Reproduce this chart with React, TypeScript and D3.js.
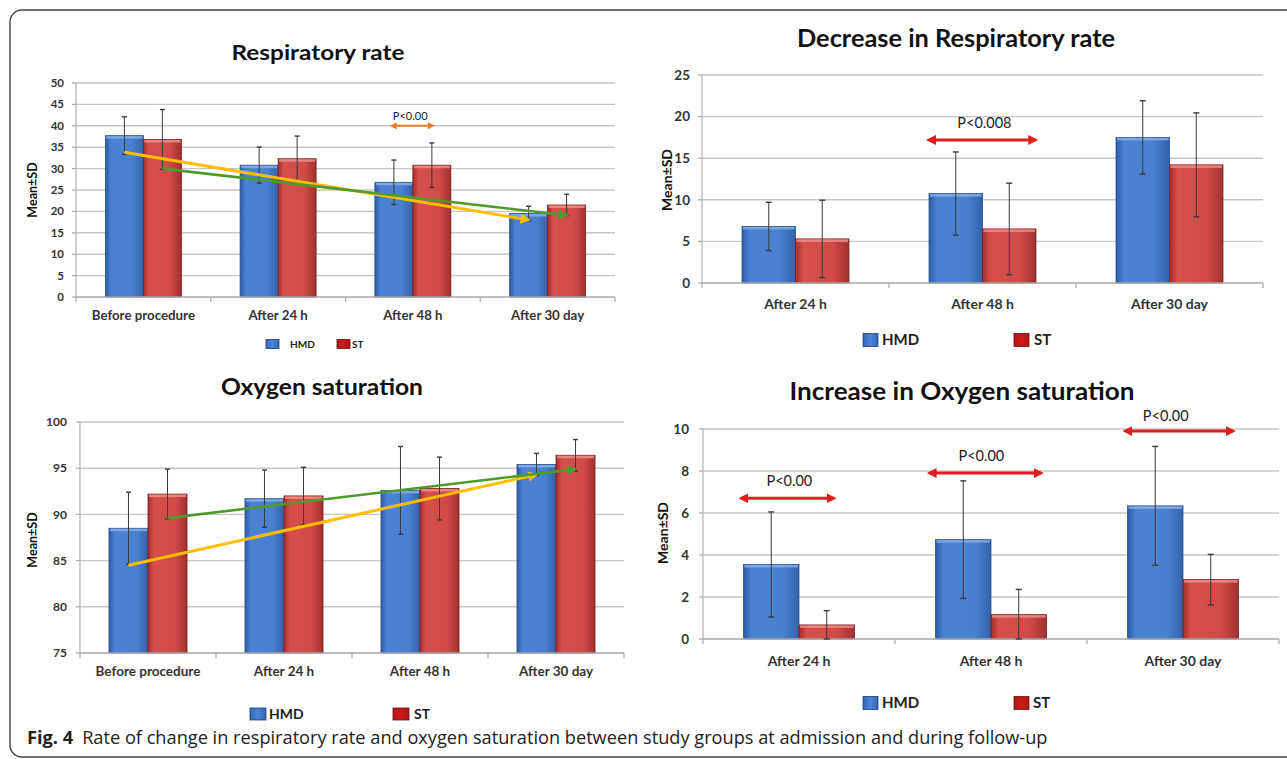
import React from "react";
import * as d3 from "d3";

// ---------- DATA ----------
const rrCategories = ["Before procedure", "After 24 h", "After 48 h", "After 30 day"];
const rrHMD = [37.7, 30.8, 26.8, 19.5];
const rrHMDsd = [4.4, 4.2, 5.2, 1.7];
const rrST = [36.8, 32.3, 30.8, 21.5];
const rrSTsd = [7.0, 5.3, 5.2, 2.5];
const rrTicks = [0, 5, 10, 15, 20, 25, 30, 35, 40, 45, 50];
const rrTrendHMD = [33.8, 18.0];
const rrTrendST = [30.0, 19.1];
const rrP = [{ category: "After 48 h", label: "P<0.00", value: 40 }];

const drCategories = ["After 24 h", "After 48 h", "After 30 day"];
const drHMD = [6.8, 10.75, 17.5];
const drHMDsd = [2.9, 5.0, 4.4];
const drST = [5.3, 6.5, 14.2];
const drSTsd = [4.65, 5.5, 6.25];
const drTicks = [0, 5, 10, 15, 20, 25];
const drP = [{ category: "After 48 h", label: "P<0.008", value: 17.2 }];

const osCategories = ["Before procedure", "After 24 h", "After 48 h", "After 30 day"];
const osHMD = [88.5, 91.7, 92.6, 95.4];
const osHMDsd = [3.9, 3.1, 4.75, 1.2];
const osST = [92.2, 92.0, 92.8, 96.4];
const osSTsd = [2.7, 3.1, 3.4, 1.7];
const osTicks = [75, 80, 85, 90, 95, 100];
const osTrendHMD = [84.5, 94.3];
const osTrendST = [89.6, 94.9];

const ioCategories = ["After 24 h", "After 48 h", "After 30 day"];
const ioHMD = [3.55, 4.73, 6.34];
const ioHMDsd = [2.5, 2.8, 2.83];
const ioST = [0.67, 1.16, 2.83];
const ioSTsd = [0.68, 1.2, 1.2];
const ioTicks = [0, 2, 4, 6, 8, 10];
const ioP = [
  { category: "After 24 h", label: "P<0.00", value: 6.7 },
  { category: "After 48 h", label: "P<0.00", value: 7.9 },
  { category: "After 30 day", label: "P<0.00", value: 9.9 },
];

const seriesNames = ["HMD", "ST"];

const FONT = "Lato, 'Open Sans', sans-serif";
const CAPFONT = "'Open Sans', 'Noto Sans', sans-serif";

// ---------- PANEL ----------
function Panel({ cfg }: { cfg: any }) {
  const x = d3
    .scaleBand<string>()
    .domain(cfg.categories)
    .range([cfg.x0, cfg.x1])
    .paddingInner(cfg.pad)
    .paddingOuter(cfg.pad / 2);
  const sub = d3.scaleBand<string>().domain(seriesNames).range([0, x.bandwidth()]);
  const y = d3.scaleLinear().domain([cfg.ticks[0], cfg.ticks[cfg.ticks.length - 1]]).range([cfg.yBottom, cfg.yTop]);
  const step = x.step();
  const bw = sub.bandwidth();
  const base = y(cfg.ticks[0]);
  const cx = (cat: string, s: string) => (x(cat) as number) + (sub(s) as number) + bw / 2;
  const series = [
    { name: "HMD", vals: cfg.hmd, sds: cfg.hmdSd, grad: "url(#gBlue)", stroke: "#27508f", hi: "#86aee6" },
    { name: "ST", vals: cfg.st, sds: cfg.stSd, grad: "url(#gRed)", stroke: "#7d1f1e", hi: "#ec8f8b" },
  ];
  const boundaries = d3.range(cfg.categories.length + 1).map((i) => cfg.x0 + i * step);
  const n = cfg.categories.length;
  return (
    <g>
      <text
        x={cfg.title.x}
        y={cfg.title.y}
        textAnchor="middle"
        fontFamily={FONT}
        fontWeight={700}
        fontSize={cfg.title.size}
        fill="#111"
        textLength={cfg.title.width}
        lengthAdjust="spacingAndGlyphs"
      >
        {cfg.title.text}
      </text>
      {/* gridlines */}
      {cfg.ticks.map((t: number) => (
        <g key={"g" + t}>
          {t !== cfg.ticks[0] && (
            <line x1={cfg.x0} x2={cfg.x1} y1={y(t)} y2={y(t)} stroke="#c6c6c6" strokeWidth={1.4} />
          )}
          <line x1={cfg.x0 - 4} x2={cfg.x0} y1={y(t)} y2={y(t)} stroke="#a8a8a8" strokeWidth={1.2} />
          <text
            x={cfg.x0 - cfg.tickOffset}
            y={y(t)}
            dy="0.35em"
            textAnchor="end"
            fontFamily={FONT}
            fontSize={cfg.tickSize}
            fontWeight={700}
            fill="#333"
          >
            {t}
          </text>
        </g>
      ))}
      <line x1={cfg.x0} x2={cfg.x0} y1={cfg.yTop} y2={cfg.yBottom} stroke="#b0b0b0" strokeWidth={1.2} />
      {/* bars */}
      {series.map((s) =>
        cfg.categories.map((c: string, i: number) => {
          const bx = (x(c) as number) + (sub(s.name) as number);
          const top = y(s.vals[i]);
          return (
            <g key={s.name + c}>
              <rect x={bx} y={top} width={bw} height={base - top} fill={s.grad} stroke={s.stroke} strokeWidth={0.8} />
              <rect x={bx + 1} y={top + 0.5} width={bw - 2} height={2.5} fill={s.hi} opacity={0.85} />
            </g>
          );
        })
      )}
      {/* x axis */}
      <line x1={cfg.x0} x2={cfg.x1} y1={base} y2={base} stroke="#a8a8a8" strokeWidth={1.3} />
      {boundaries.map((bx: number, i: number) => (
        <line key={"xt" + i} x1={bx} x2={bx} y1={base} y2={base + 5} stroke="#a8a8a8" strokeWidth={1.2} />
      ))}
      {cfg.categories.map((c: string) => (
        <text
          key={"xl" + c}
          x={(x(c) as number) + x.bandwidth() / 2}
          y={cfg.xLabelY}
          textAnchor="middle"
          fontFamily={FONT}
          fontSize={cfg.xLabelSize}
          fontWeight={700}
          fill="#333"
        >
          {c}
        </text>
      ))}
      {/* error bars */}
      {series.map((s) =>
        cfg.categories.map((c: string, i: number) => {
          const px = cx(c, s.name);
          const hi = y(s.vals[i] + s.sds[i]);
          const lo = y(Math.max(s.vals[i] - s.sds[i], cfg.ticks[0]));
          const cw = cfg.cap;
          return (
            <g key={"e" + s.name + c} stroke="#3a3a3a" strokeWidth={1}>
              <line x1={px} x2={px} y1={hi} y2={lo} />
              <line x1={px - cw / 2} x2={px + cw / 2} y1={hi} y2={hi} strokeWidth={1.4} />
              <line x1={px - cw / 2} x2={px + cw / 2} y1={lo} y2={lo} strokeWidth={1.4} />
            </g>
          );
        })
      )}
      {/* trend arrows */}
      {cfg.trendHMD && (
        <line
          x1={cx(cfg.categories[0], "HMD")}
          y1={y(cfg.trendHMD[0])}
          x2={cx(cfg.categories[n - 1], "HMD")}
          y2={y(cfg.trendHMD[1])}
          stroke="#ffbf00"
          strokeWidth={3}
          markerEnd="url(#mYellow)"
        />
      )}
      {cfg.trendST && (
        <line
          x1={cx(cfg.categories[0], "ST")}
          y1={y(cfg.trendST[0])}
          x2={cx(cfg.categories[n - 1], "ST")}
          y2={y(cfg.trendST[1])}
          stroke="#4f9a2c"
          strokeWidth={2.6}
          markerEnd="url(#mGreen)"
        />
      )}
      {/* p-value annotations */}
      {cfg.pvals.map((p: any, i: number) => {
        const lay = cfg.pLayout[i];
        const c0 = (x(p.category) as number) + x.bandwidth() / 2;
        const py = y(p.value);
        return (
          <g key={"p" + i}>
            <line
              x1={c0 + lay.from * step}
              x2={c0 + lay.to * step}
              y1={py}
              y2={py}
              stroke={cfg.pColor}
              strokeWidth={cfg.pWidth}
              markerStart={cfg.pMarker}
              markerEnd={cfg.pMarker}
            />
            <text
              x={c0 + lay.text * step}
              y={py - lay.dy}
              textAnchor="middle"
              fontFamily={FONT}
              fontSize={cfg.pSize}
              fill="#222"
            >
              {p.label}
            </text>
          </g>
        );
      })}
      {/* y label */}
      <text
        transform={`translate(${cfg.yLabel.x},${cfg.yLabel.y}) rotate(-90)`}
        textAnchor="middle"
        dy="0.35em"
        fontFamily={FONT}
        fontWeight={700}
        fontSize={cfg.yLabel.size}
        fill="#111"
      >
        Mean±SD
      </text>
      {/* legend */}
      {seriesNames.map((name, i) => {
        const L = cfg.legend;
        return (
          <g key={"lg" + name}>
            <rect
              x={L.sq[i]}
              y={L.y - L.h / 2}
              width={L.w}
              height={L.h}
              fill={i === 0 ? "url(#gBlueL)" : "url(#gRedL)"}
              stroke={i === 0 ? "#1f3f7a" : "#6d0f0f"}
              strokeWidth={0.8}
            />
            <text x={L.tx[i]} y={L.y} dy="0.36em" fontFamily={FONT} fontSize={L.size} fill="#222" fontWeight={700}>
              {name}
            </text>
          </g>
        );
      })}
    </g>
  );
}

const panels = [
  {
    categories: rrCategories, hmd: rrHMD, hmdSd: rrHMDsd, st: rrST, stSd: rrSTsd, ticks: rrTicks,
    trendHMD: rrTrendHMD, trendST: rrTrendST, pvals: rrP,
    x0: 76, x1: 615, yTop: 83, yBottom: 297, pad: 0.436,
    title: { text: "Respiratory rate", x: 318, y: 60, size: 21, width: 173 },
    yLabel: { x: 33, y: 190, size: 12.5 },
    tickSize: 11.5, tickOffset: 12, xLabelY: 320, xLabelSize: 13.3, cap: 5,
    pLayout: [{ from: -0.156, to: 0.148, text: -0.02, dy: 6 }],
    pColor: "#ec7d2f", pWidth: 2, pMarker: "url(#mOrange)", pSize: 11,
    legend: { y: 344, sq: [266, 337], tx: [290, 352], w: 13, h: 9, size: 10 },
  },
  {
    categories: drCategories, hmd: drHMD, hmdSd: drHMDsd, st: drST, stSd: drSTsd, ticks: drTicks,
    pvals: drP,
    x0: 702, x1: 1263, yTop: 75, yBottom: 283, pad: 0.428,
    title: { text: "Decrease in Respiratory rate", x: 956, y: 47, size: 25, width: 318 },
    yLabel: { x: 667, y: 180, size: 14 },
    tickSize: 13.5, tickOffset: 12, xLabelY: 309, xLabelSize: 14, cap: 6,
    pLayout: [{ from: -0.286, to: 0.282, text: 0.01, dy: 12 }],
    pColor: "#e01e1e", pWidth: 3, pMarker: "url(#mRed)", pSize: 14.5,
    legend: { y: 340, sq: [863, 1014], tx: [882, 1034], w: 15, h: 13, size: 15 },
  },
  {
    categories: osCategories, hmd: osHMD, hmdSd: osHMDsd, st: osST, stSd: osSTsd, ticks: osTicks,
    trendHMD: osTrendHMD, trendST: osTrendST, pvals: [],
    x0: 80, x1: 624, yTop: 422, yBottom: 653, pad: 0.426,
    title: { text: "Oxygen saturation", x: 322, y: 395, size: 22, width: 202 },
    yLabel: { x: 33, y: 540, size: 12.5 },
    tickSize: 12, tickOffset: 13, xLabelY: 676, xLabelSize: 13.5, cap: 5,
    pLayout: [], pColor: "#e01e1e", pWidth: 3, pMarker: "url(#mRed)", pSize: 14,
    legend: { y: 714, sq: [250, 393], tx: [269, 414], w: 16, h: 12, size: 14 },
  },
  {
    categories: ioCategories, hmd: ioHMD, hmdSd: ioHMDsd, st: ioST, stSd: ioSTsd, ticks: ioTicks,
    pvals: ioP,
    x0: 703, x1: 1279, yTop: 429, yBottom: 639, pad: 0.422,
    title: { text: "Increase in Oxygen saturation", x: 962, y: 400, size: 25, width: 345 },
    yLabel: { x: 663, y: 533, size: 14 },
    tickSize: 13.5, tickOffset: 14, xLabelY: 666, xLabelSize: 14, cap: 6,
    pLayout: [
      { from: -0.30, to: 0.18, text: -0.05, dy: 12 },
      { from: -0.32, to: 0.26, text: -0.05, dy: 12 },
      { from: -0.30, to: 0.26, text: -0.09, dy: 10 },
    ],
    pColor: "#e01e1e", pWidth: 3, pMarker: "url(#mRed)", pSize: 14.5,
    legend: { y: 703, sq: [863, 1014], tx: [882, 1033], w: 15, h: 13, size: 15 },
  },
];

export default function App() {
  return (
    <svg
      width={1287}
      height={759}
      viewBox="0 0 1287 759"
      style={{ position: "absolute", left: 0, top: 0, background: "#fff" }}
    >
      <defs>
        <linearGradient id="gBlue" x1="0" x2="1" y1="0" y2="0">
          <stop offset="0" stopColor="#2d5ba3" />
          <stop offset="0.15" stopColor="#4a82d3" />
          <stop offset="0.7" stopColor="#4a80cf" />
          <stop offset="1" stopColor="#3462aa" />
        </linearGradient>
        <linearGradient id="gRed" x1="0" x2="1" y1="0" y2="0">
          <stop offset="0" stopColor="#a42d2b" />
          <stop offset="0.15" stopColor="#d5504c" />
          <stop offset="0.7" stopColor="#d04a47" />
          <stop offset="1" stopColor="#a13130" />
        </linearGradient>
        <linearGradient id="gBlueL" x1="0" x2="1" y1="0" y2="0">
          <stop offset="0" stopColor="#3567b5" />
          <stop offset="0.5" stopColor="#4a84d6" />
          <stop offset="1" stopColor="#3567b5" />
        </linearGradient>
        <linearGradient id="gRedL" x1="0" x2="1" y1="0" y2="0">
          <stop offset="0" stopColor="#b31212" />
          <stop offset="0.5" stopColor="#cc1a1a" />
          <stop offset="1" stopColor="#b31212" />
        </linearGradient>
        <marker id="mYellow" viewBox="0 0 10 10" refX="8" refY="5" markerWidth="11" markerHeight="10" markerUnits="userSpaceOnUse" orient="auto">
          <path d="M0,0 L10,5 L0,10 z" fill="#ffbf00" />
        </marker>
        <marker id="mGreen" viewBox="0 0 10 10" refX="8" refY="5" markerWidth="11" markerHeight="10" markerUnits="userSpaceOnUse" orient="auto">
          <path d="M0,0 L10,5 L0,10 z" fill="#4f9a2c" />
        </marker>
        <marker id="mRed" viewBox="0 0 10 10" refX="7" refY="5" markerWidth="10" markerHeight="10" markerUnits="userSpaceOnUse" orient="auto-start-reverse">
          <path d="M0,0 L10,5 L0,10 z" fill="#e01e1e" />
        </marker>
        <marker id="mOrange" viewBox="0 0 10 10" refX="7" refY="5" markerWidth="7" markerHeight="7" markerUnits="userSpaceOnUse" orient="auto-start-reverse">
          <path d="M0,0 L10,5 L0,10 z" fill="#ec7d2f" />
        </marker>
      </defs>
      <rect x={10} y={10} width={1320} height={747} rx={12} ry={12} fill="none" stroke="#444" strokeWidth={1.4} />
      {panels.map((p, i) => (
        <Panel key={i} cfg={p} />
      ))}
      <text x={27} y={744} fontFamily={CAPFONT} fontSize={18.2} fill="#222">
        <tspan fontWeight={700}>Fig. 4</tspan>
        <tspan dx={9}>Rate of change in respiratory rate and oxygen saturation between study groups at admission and during follow-up</tspan>
      </text>
    </svg>
  );
}
